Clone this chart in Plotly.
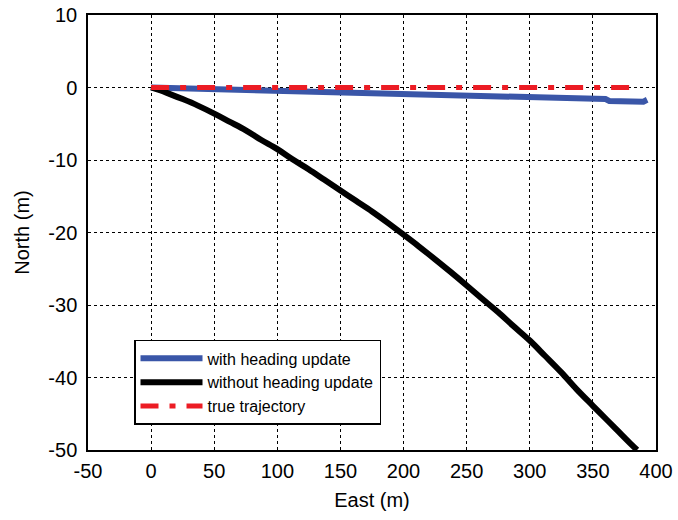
import plotly.graph_objects as go

# with heading update (blue)
blue_east = [0, 10, 20, 30, 40, 50, 60, 70, 80, 90, 100, 110, 120, 130, 140, 150, 160, 170, 180,
             190, 200, 210, 220, 230, 240, 250, 260, 270, 280, 290, 300, 310, 320, 330, 340, 350,
             360, 363, 370, 380, 390, 393]
blue_north = [0, -0.05, -0.1, -0.12, -0.2, -0.25, -0.3, -0.3, -0.4, -0.45, -0.5, -0.55, -0.5, -0.6,
              -0.7, -0.75, -0.8, -0.85, -0.9, -0.95, -1.0, -1.0, -1.05, -1.1, -1.15, -1.2, -1.25,
              -1.2, -1.3, -1.35, -1.4, -1.4, -1.45, -1.5, -1.55, -1.6, -1.6, -1.85, -1.9, -1.9,
              -1.95, -1.7]

# without heading update (black)
black_east = [0, 12, 25, 37, 50, 62, 75, 87, 100, 112, 125, 137, 150, 162, 175, 187, 200, 212,
              225, 237, 250, 262, 275, 287, 300, 312, 325, 337, 350, 362, 370, 378, 385]
black_north = [0, -0.7, -1.6, -2.5, -3.6, -4.7, -5.9, -7.2, -8.5, -9.9, -11.3, -12.7, -14.2,
               -15.6, -17.1, -18.6, -20.3, -21.9, -23.7, -25.4, -27.3, -29.1, -31.0, -32.9,
               -34.9, -37.0, -39.3, -41.6, -43.9, -46.0, -47.4, -48.8, -50.0]

# true trajectory (red)
true_east = [0, 383]
true_north = [0, 0]

x_ticks = [-50, 0, 50, 100, 150, 200, 250, 300, 350, 400]
x_tick_text = ["-50", "0", "50", "100", "150", "200", "250", "300", "350", "400"]
y_ticks = [10, 0, -10, -20, -30, -40, -50]
y_tick_text = ["10", "0", "-10", "-20", "-30", "-40", "-50"]

FONT = "Liberation Sans, Arial"

fig = go.Figure()
fig.add_trace(go.Scatter(x=blue_east, y=blue_north, mode="lines", name="with heading update",
                         line=dict(color="#3a56a8", width=6), legendgroup="a"))
fig.add_trace(go.Scatter(x=black_east, y=black_north, mode="lines", name="without heading update",
                         line=dict(color="black", width=6, shape="spline", smoothing=1.0),
                         legendgroup="b"))
fig.add_trace(go.Scatter(x=true_east, y=true_north, mode="lines", name="true trajectory",
                         line=dict(color="#ec1c24", width=5, dash="18px,11px,6px,11px"),
                         legendgroup="c"))

axis_common = dict(showline=True, linecolor="black", linewidth=1.5, mirror=True,
                   showgrid=True, gridcolor="black", gridwidth=1, griddash="dot",
                   zeroline=False, ticks="",
                   tickfont=dict(family=FONT, size=20, color="black"))

fig.update_xaxes(range=[-50, 400], tickvals=x_ticks, ticktext=x_tick_text, ticklabelstandoff=2,
                 title=dict(text="East (m)", font=dict(family=FONT, size=20, color="black"), standoff=12),
                 **axis_common)
fig.update_yaxes(range=[-50, 10], tickvals=y_ticks, ticktext=y_tick_text, ticklabelstandoff=5,
                 title=dict(text="North (m)", font=dict(family=FONT, size=20, color="black"), standoff=13),
                 **axis_common)

fig.update_layout(
    width=678, height=520,
    margin=dict(l=88, r=22, t=15, b=70, autoexpand=False),
    plot_bgcolor="white", paper_bgcolor="white",
    showlegend=True,
    legend=dict(x=0.081, y=0.253, xanchor="left", yanchor="top",
                bgcolor="white", bordercolor="black", borderwidth=1.5,
                font=dict(family=FONT, size=16, color="black"),
                traceorder="grouped", tracegroupgap=0, itemwidth=62),
)

fig.write_html("out.html")
